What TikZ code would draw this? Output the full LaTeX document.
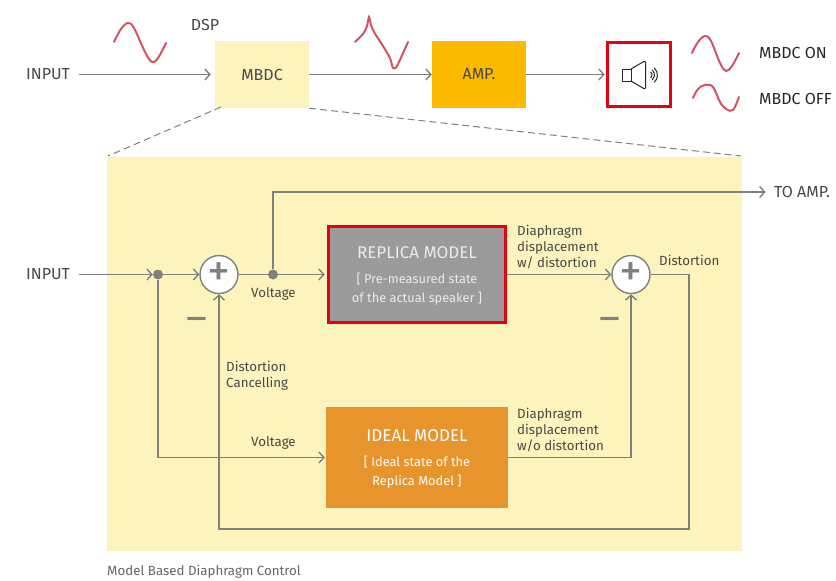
\documentclass[tikz,border=0pt]{standalone}
\usepackage{fontspec}
\setmainfont{Fira Sans}
\usetikzlibrary{arrows.meta}
\definecolor{paleyellow}{HTML}{FCF4BC}
\definecolor{ampyellow}{HTML}{FBBA00}
\definecolor{idealorange}{HTML}{E7942D}
\definecolor{replicagray}{HTML}{9B9B9B}
\definecolor{redline}{HTML}{E60012}
\definecolor{wirecol}{HTML}{808080}
\definecolor{textcol}{HTML}{484848}
\definecolor{wavecol}{HTML}{CF5563}
\tikzset{>={Straight Barb[length=5pt,width=11pt,line width=1.4pt]}, every edge/.style={draw,->,wirecol,line width=1.4pt},
	wire/.style={draw=wirecol,line width=1.4pt},
	wave/.style={wavecol,line width=2pt,line cap=round}}
\tikzstyle{toplabel}=[inner sep=0pt,text=textcol,font=\fontsize{16}{16}\selectfont]
\tikzstyle{small}=[inner sep=0pt,anchor=west,align=left,text=textcol,font=\fontsize{13.3}{15.6}\selectfont]
\tikzstyle{ioport}=[inner xsep=8.5pt,inner ysep=0pt,anchor=west,text=textcol,font=\fontsize{16}{16}\selectfont]
\tikzstyle{block}=[rectangle,inner sep=0pt,text=textcol,minimum width=94pt,minimum height=67pt,font=\fontsize{16}{16}\selectfont]
\tikzstyle{model}=[rectangle,inner sep=0pt,minimum width=182pt,minimum height=101pt]
\tikzstyle{junction}=[circle,draw=wirecol,fill=white,line width=1.4pt,inner sep=0pt,minimum size=38pt,text=wirecol,font=\fontsize{46}{46}\selectfont]
\tikzstyle{dot}=[circle,fill=wirecol,inner sep=0pt,minimum size=10pt]
\tikzstyle{minus}=[inner sep=0pt,text=wirecol,font=\fontsize{40}{40}\selectfont]
\newcommand{\titlesize}{\fontsize{17}{17}\selectfont\rule{0pt}{15pt}}
\newcommand{\notesize}{\fontsize{12.8}{13}\selectfont}
\newcommand{\plussign}{\raisebox{-3pt}{+}}
\begin{document}
\begin{tikzpicture}[x=1pt,y=-1pt]
	\useasboundingbox (0,0) rectangle (836,581);
	% top row
	\fill[paleyellow] (107,157) rectangle (742,551);
	\node at (262,74.5) [block,fill=paleyellow] (mbdc) {MBDC};
	\node at (479,74.5) [block,fill=ampyellow] (amp) {AMP.};
	\node at (639,74.5) [rectangle,draw=redline,line width=3pt,fill=white,minimum size=63.5pt,inner sep=0pt] (spk) {};
	\node at (17.5,74.5) [ioport] (input1) {INPUT};
	\node at (205,25) [toplabel] (dsp) {DSP};
	\node at (759,53) [small,text=black!85,font=\fontsize{16}{16}\selectfont] (mbdcon) {MBDC ON};
	\node at (759,99) [small,text=black!85,font=\fontsize{16}{16}\selectfont] (mbdcoff) {MBDC OFF};
	\draw[shorten >=4pt] (input1) edge (mbdc);
	\draw (mbdc) edge (amp);
	\draw[shorten >=1pt] (amp) edge (spk);
	\coordinate (zoomA) at (108,156);
	\coordinate (zoomB) at (741,156);
	\coordinate (mbdcA) at (221,107);
	\draw[wirecol,dashed,dash pattern=on 7pt off 4pt,line width=1pt] (mbdcA) -- (zoomA);
	\draw[wirecol,dashed,dash pattern=on 7pt off 4pt,line width=1pt] (mbdc.south east) -- (zoomB);
	% waves
	\draw[wave] plot[smooth,tension=0.6] coordinates {(114,42) (121,29) (128,23) (134,28) (145,52) (152,62) (158,58) (166,43)};
	\draw[wave] plot[smooth,tension=0.4] coordinates {(355,42) (363,34) (367,26) (369,17) (371,25) (374,32) (383,46) (390,58) (393,68) (397,66) (408,42)};
	\draw[wave] plot[smooth,tension=0.6] coordinates {(692,53) (698,42) (705,36) (711,41) (720,63) (726,71) (732,66) (739,53)};
	\draw[wave] plot[smooth,tension=0.6] coordinates {(693,98) (698,89) (705,85) (713,87) (720,102) (726,109) (733,110) (739,97)};
	% speaker
	\draw[black!85,line width=1pt] (622,69) rectangle (631,81);
	\draw[black!85,line width=1pt,line join=round,rounded corners=1.5pt] (631,69) -- (645.5,60.5) -- (645.5,89.5) -- (631,81);
	\foreach \r in {4,6.5,9.5}
		\draw[black!85,line width=1pt] (648+\r*0.643,75-\r*0.766) arc (-50:50:\r);
	% lower part
	\node at (17.5,274.5) [ioport] (input2) {INPUT};
	\node at (158,274.5) [dot] (dot1) {};
	\node at (219,274.5) [junction] (sum1) {\plussign};
	\node at (273,274.5) [dot] (dot2) {};
	\node at (417,274.5) [model,fill=replicagray,draw=redline,line width=3pt,text=white!92!black,align=center,minimum width=177.5pt,minimum height=96.5pt] (replica) {\titlesize REPLICA MODEL\\[13pt]\notesize {[} Pre-measured state\\[6.5pt]\notesize of the actual speaker ]};
	\node at (417,457.5) [model,fill=idealorange,text=white,align=center] (ideal) {\titlesize IDEAL MODEL\\[13pt]\notesize {[} Ideal state of the\\[6.5pt]\notesize Replica Model ]};
	\node at (631,274.5) [junction] (sum2) {\plussign};
	\node at (765.5,192) [ioport] (toamp) {TO AMP.};
	\coordinate (turn) at (689,529);
	\draw (input2) edge (dot1);
	\draw (dot1) edge (sum1);
	\draw[wire] (sum1) -- (dot2);
	\draw[shorten >=2pt] (dot2) edge (replica);
	\draw (replica) edge (sum2);
	\draw[wire,->] (dot2) |- (toamp);
	\draw[wire,->,shorten >=1pt] (dot1) |- (ideal);
	\draw[wire,->] (ideal) -| (sum2);
	\draw[wire,->] (sum2) -| (turn) -| (sum1);
	\node at (197,324) [minus] (minus1) {–};
	\node at (610,324) [minus] (minus2) {–};
	% labels
	\node at (251,294) [small] (volt1) {Voltage};
	\node at (251,443) [small] (volt2) {Voltage};
	\node at (226,375.5) [small] (cancel) {Distortion\\Cancelling};
	\node at (517,247) [small] (dispw) {Diaphragm\\displacement\\w/ distortion};
	\node at (517,430) [small] (dispwo) {Diaphragm\\displacement\\w/o distortion};
	\node at (659,260) [small] (dist) {Distortion};
	\node at (107,572) [small,text=black!60] (caption) {Model Based Diaphragm Control};
\end{tikzpicture}
\end{document}
